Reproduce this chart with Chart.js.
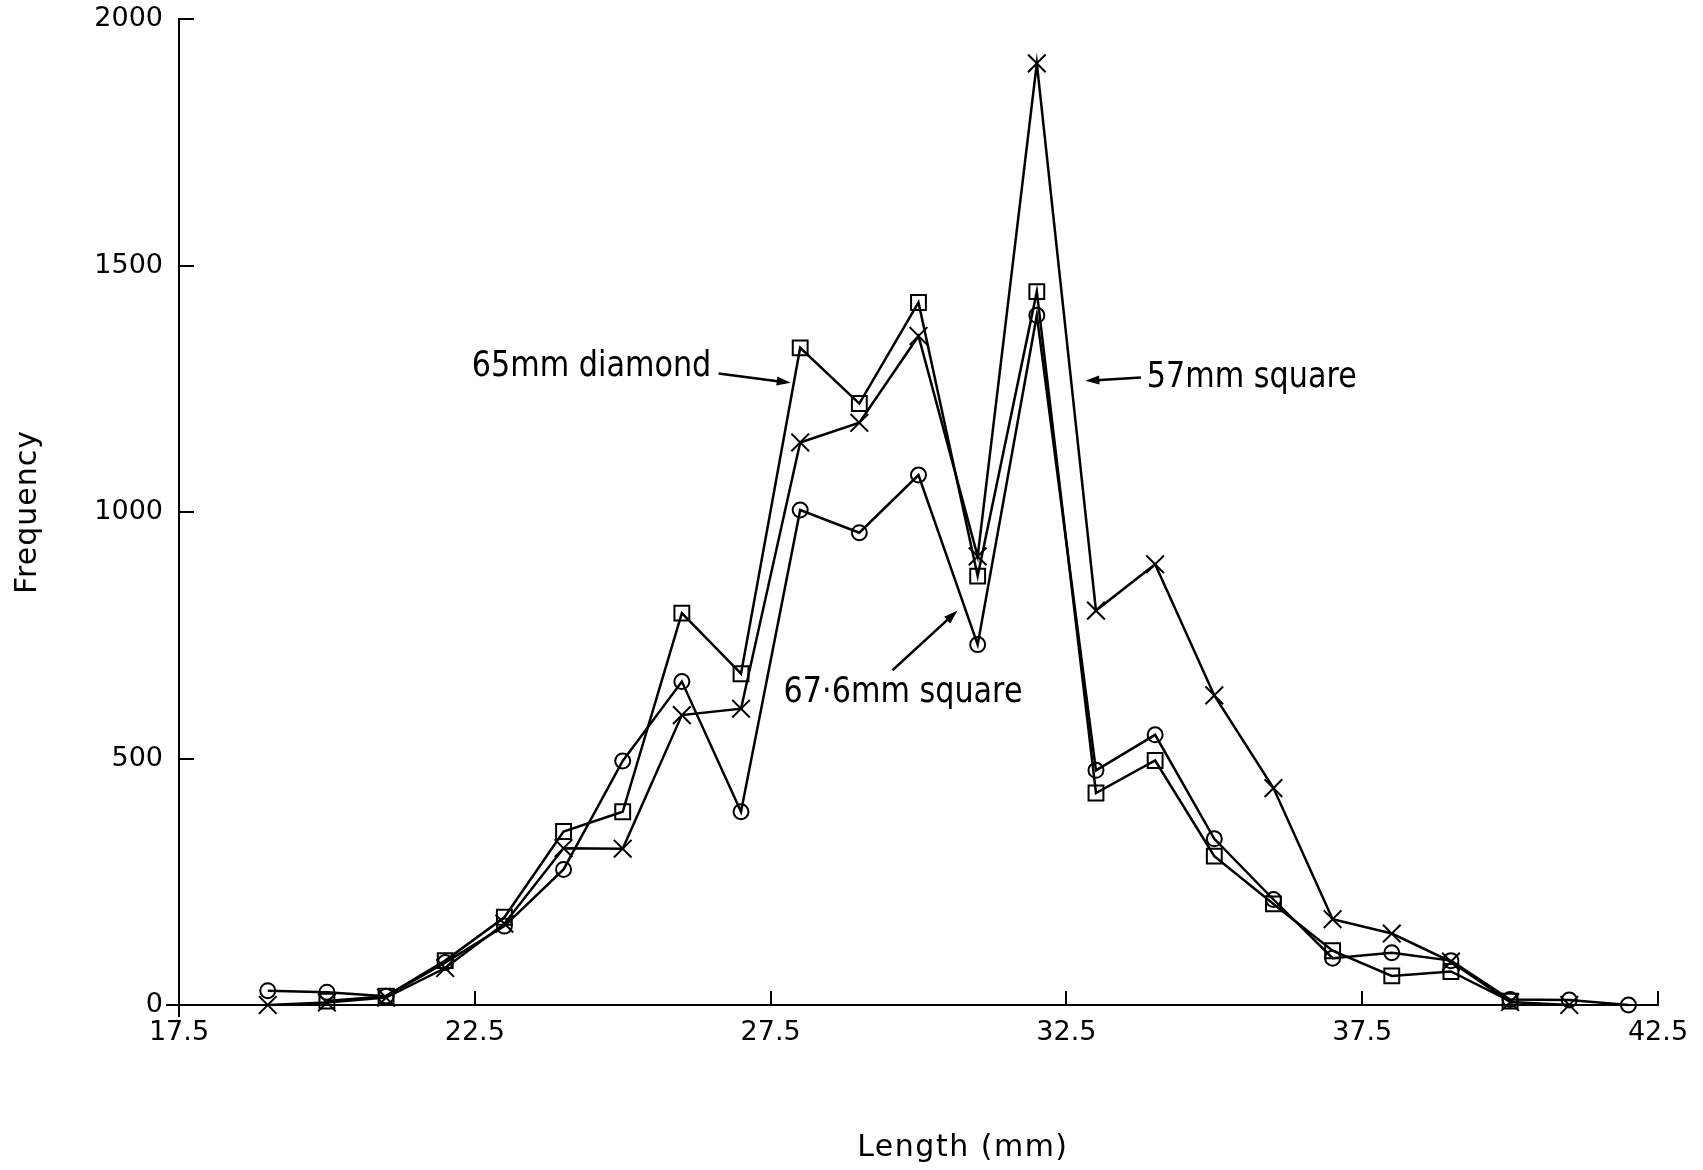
<!DOCTYPE html>
<html>
<head>
<meta charset="utf-8">
<script src="https://cdn.jsdelivr.net/npm/chart.js@4.4.0/dist/chart.umd.min.js"></script>
<style>
  html, body { margin: 0; padding: 0; background: #fff; }
  #wrap { width: 1703px; height: 1170px; }
</style>
</head>
<body>
<div id="wrap"><canvas id="lengthChart"></canvas></div>
<script>
// length classes (mm), one point per class
const lengths = [19, 20, 21, 22, 23, 24, 25, 26, 27, 28, 29, 30, 31, 32, 33, 34, 35, 36, 37, 38, 39, 40, 41, 42];

// frequencies per mesh
const diamond65 = [null, 8, 18, 90, 178, 352, 392, 795, 672, 1333, 1220, 1425, 870, 1447, 430, 496, 302, 205, 110, 59, 68, 8, null, null];
const square57 = [0, 5, 15, 75, 165, 318, 317, 588, 601, 1141, 1181, 1357, 910, 1910, 800, 894, 628, 440, 174, 145, 88, 6, 0, null];
const square676 = [29, 26, 18, 86, 160, 275, 495, 656, 392, 1004, 958, 1075, 731, 1399, 476, 548, 337, 214, 95, 106, 90, 11, 10, 0];

const xTicks = [17.5, 22.5, 27.5, 32.5, 37.5, 42.5];
const yTicks = [0, 500, 1000, 1500, 2000];

const xTitle = 'Length (mm)';
const yTitle = 'Frequency';

// labels with arrows pointing at their line (data units)
const callouts = [
  { text: '65mm diamond', at: [22.45, 1295], from: [26.62, 1281], to: [27.84, 1262] },
  { text: '57mm square', at: [33.86, 1273], from: [33.76, 1273], to: [32.82, 1266] },
  { text: '67·6mm square', at: [27.72, 634], from: [29.56, 679], to: [30.66, 800] }
];

function points(values) {
  return lengths.map((x, i) => ({ x: x, y: values[i] }));
}

function series(values, style, radius) {
  return {
    data: points(values),
    borderColor: '#000',
    borderWidth: 2.5,
    pointStyle: style,
    pointRadius: radius,
    pointBorderWidth: 2,
    pointBorderColor: '#000',
    pointBackgroundColor: 'rgba(0,0,0,0)',
    tension: 0,
    fill: false,
    clip: false
  };
}

const calloutPlugin = {
  id: 'callouts',
  afterDatasetsDraw(chart) {
    const { ctx, scales: { x, y } } = chart;
    ctx.save();
    ctx.fillStyle = '#000';
    ctx.strokeStyle = '#000';
    ctx.lineWidth = 2.5;
    callouts.forEach(c => {
      // label, condensed like the plotter lettering
      ctx.save();
      ctx.translate(x.getPixelForValue(c.at[0]), y.getPixelForValue(c.at[1]));
      ctx.scale(0.84, 1);
      ctx.font = '36px "DejaVu Sans"';
      ctx.textAlign = 'left';
      ctx.textBaseline = 'middle';
      ctx.fillText(c.text, 0, 0);
      ctx.restore();

      // arrow shaft + head
      const x0 = x.getPixelForValue(c.from[0]), y0 = y.getPixelForValue(c.from[1]);
      const x1 = x.getPixelForValue(c.to[0]), y1 = y.getPixelForValue(c.to[1]);
      const ang = Math.atan2(y1 - y0, x1 - x0);
      const head = 14, half = 4.5;
      ctx.beginPath();
      ctx.moveTo(x0, y0);
      ctx.lineTo(x1 - Math.cos(ang) * head * 0.8, y1 - Math.sin(ang) * head * 0.8);
      ctx.stroke();
      ctx.beginPath();
      ctx.moveTo(x1, y1);
      ctx.lineTo(x1 - Math.cos(ang) * head - Math.sin(ang) * half, y1 - Math.sin(ang) * head + Math.cos(ang) * half);
      ctx.lineTo(x1 - Math.cos(ang) * head + Math.sin(ang) * half, y1 - Math.sin(ang) * head - Math.cos(ang) * half);
      ctx.closePath();
      ctx.fill();
    });
    ctx.restore();
  }
};

// axis titles drawn by hand so they can sit where the plotter put them,
// plus the little overshoot of both axis lines at the origin
const axisTitlePlugin = {
  id: 'axisTitles',
  afterDraw(chart) {
    const { ctx, chartArea, scales: { x } } = chart;
    ctx.save();
    ctx.strokeStyle = '#000';
    ctx.lineWidth = 2;
    ctx.beginPath();
    ctx.moveTo(chartArea.left - 13, chartArea.bottom);
    ctx.lineTo(chartArea.left, chartArea.bottom);
    ctx.moveTo(chartArea.left, chartArea.bottom);
    ctx.lineTo(chartArea.left, chartArea.bottom + 12);
    ctx.stroke();

    ctx.fillStyle = '#000';
    ctx.font = '30px "DejaVu Sans"';
    ctx.textAlign = 'center';
    ctx.textBaseline = 'middle';
    ctx.letterSpacing = '1.5px';
    ctx.fillText(xTitle, x.getPixelForValue(30.75), chartArea.bottom + 143);
    ctx.letterSpacing = '1px';
    ctx.translate(28, (chartArea.top + chartArea.bottom) / 2);
    ctx.rotate(-Math.PI / 2);
    ctx.fillText(yTitle, 0, 0);
    ctx.restore();
  }
};

const tickFont = { family: '"DejaVu Sans"', size: 27 };

new Chart(document.getElementById('lengthChart'), {
  type: 'line',
  data: {
    datasets: [
      series(diamond65, 'rect', 10.5),
      series(square57, 'crossRot', 12.5),
      series(square676, 'circle', 7.5)
    ]
  },
  options: {
    responsive: true,
    maintainAspectRatio: false,
    animation: false,
    layout: { padding: { top: 19, right: 45, bottom: 0, left: 0 } },
    plugins: {
      legend: { display: false },
      tooltip: { enabled: false }
    },
    scales: {
      x: {
        type: 'linear',
        min: 17.5,
        max: 42.5,
        afterBuildTicks: scale => { scale.ticks = xTicks.map(v => ({ value: v })); },
        afterFit: scale => {
          scale.height = 165;
          scale.paddingRight = 0;
        },
        border: { color: '#000', width: 2 },
        grid: { drawOnChartArea: false, color: '#000', lineWidth: 2, tickLength: -14 },
        ticks: {
          color: '#000',
          font: tickFont,
          padding: 26,
          autoSkip: false,
          maxRotation: 0,
          callback: v => v.toFixed(1)
        }
      },
      y: {
        min: 0,
        max: 2000,
        afterBuildTicks: scale => { scale.ticks = yTicks.map(v => ({ value: v })); },
        afterFit: scale => {
          scale.width = 179;
          scale.paddingTop = 0;
        },
        border: { color: '#000', width: 2 },
        grid: { drawOnChartArea: false, color: '#000', lineWidth: 2, tickLength: -15 },
        ticks: {
          color: '#000',
          font: tickFont,
          padding: 31,
          callback: v => String(v)
        }
      }
    }
  },
  plugins: [calloutPlugin, axisTitlePlugin]
});
</script>
</body>
</html>
